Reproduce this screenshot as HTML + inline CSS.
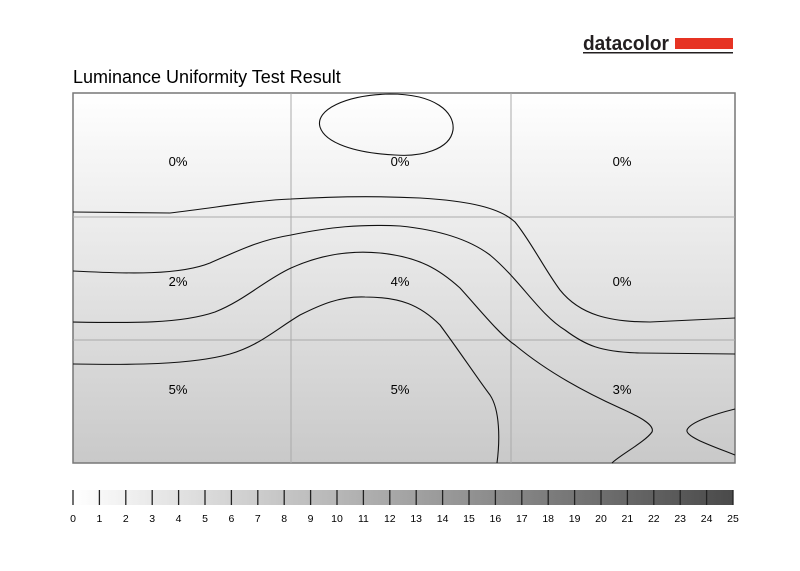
<!DOCTYPE html>
<html><head><style>
body{margin:0;background:#fff;width:800px;height:566px;overflow:hidden;font-family:"Liberation Sans",sans-serif}
</style></head><body>
<svg width="800" height="566" viewBox="0 0 800 566" xmlns="http://www.w3.org/2000/svg" font-family="Liberation Sans, sans-serif">
<defs>
<linearGradient id="bg" x1="0" y1="0" x2="0" y2="1">
<stop offset="0" stop-color="#ffffff"/><stop offset="1" stop-color="#c9c9c9"/></linearGradient>
<linearGradient id="sc" x1="0" y1="0" x2="1" y2="0">
<stop offset="0" stop-color="#ffffff"/><stop offset="1" stop-color="#4a4a4a"/></linearGradient>
</defs>
<text x="583" y="50" font-size="20" font-weight="bold" fill="#231f20" textLength="86" lengthAdjust="spacingAndGlyphs">datacolor</text>
<rect x="675" y="38" width="58" height="11" fill="#e63323"/>
<rect x="583" y="52" width="150" height="1.5" fill="#231f20"/>
<text x="73" y="83" font-size="18" fill="#000">Luminance Uniformity Test Result</text>
<rect x="73" y="93" width="662" height="370" fill="url(#bg)" stroke="#777" stroke-width="1.5"/>
<g stroke="#aaa" stroke-width="1">
<line x1="291" y1="93" x2="291" y2="463"/><line x1="511" y1="93" x2="511" y2="463"/>
<line x1="73" y1="217" x2="735" y2="217"/><line x1="73" y1="340" x2="735" y2="340"/>
</g>
<g fill="none" stroke="#111" stroke-width="1.1">
<path d="M320,127 C315,110 345,95 390,94 C435,94 455,112 453,130 C450,150 420,157 395,155 C355,153 325,143 320,127 Z"/>
<path d="M73,212 L170,213 C220,207 260,200 291,199 C340,196 380,196 420,198 C470,201 500,208 515,222 C530,240 545,270 560,290 C580,315 610,322 650,322 L735,318"/>
<path d="M73,271 C130,274 180,275 210,263 C240,250 260,240 291,235 C330,227 360,224 400,226 C440,230 470,240 490,255 C520,280 540,315 565,330 C585,345 600,352 640,353 L735,354"/>
<path d="M73,322 C130,323 180,324 215,312 C245,300 265,280 291,268 C320,255 350,250 380,253 C420,257 440,270 460,288 C480,310 500,335 515,345 C545,370 580,390 620,408 C640,417 655,425 652,432 C645,442 620,455 612,463"/>
<path d="M73,364 C130,365 190,365 230,354 C260,345 275,330 300,315 C320,305 340,296 365,297 C400,297 420,305 440,325 C460,352 475,375 490,395 C500,410 500,440 497,463"/>
<path d="M735,409 C715,414 690,422 687,430 C685,437 715,447 735,455"/>
</g>
<g font-size="13" fill="#000" text-anchor="middle">
<text x="178" y="166">0%</text><text x="400" y="166">0%</text><text x="622" y="166">0%</text>
<text x="178" y="286">2%</text><text x="400" y="286">4%</text><text x="622" y="286">0%</text>
<text x="178" y="394">5%</text><text x="400" y="394">5%</text><text x="622" y="394">3%</text>
</g>
<rect x="73" y="490" width="660" height="15" fill="url(#sc)"/>
<g id="ticks" stroke="#222" stroke-width="1.3"></g>
<g id="labs" font-size="10.5" fill="#000" text-anchor="middle"></g>
<script>
var t=document.getElementById('ticks'),l=document.getElementById('labs'),ns='http://www.w3.org/2000/svg';
for(var i=0;i<=25;i++){var x=73+i*26.4;
var ln=document.createElementNS(ns,'line');ln.setAttribute('x1',x);ln.setAttribute('x2',x);ln.setAttribute('y1',490);ln.setAttribute('y2',505);t.appendChild(ln);
var tx=document.createElementNS(ns,'text');tx.setAttribute('x',x);tx.setAttribute('y',522);tx.textContent=i;l.appendChild(tx);}
</script>
</svg>
</body></html>
